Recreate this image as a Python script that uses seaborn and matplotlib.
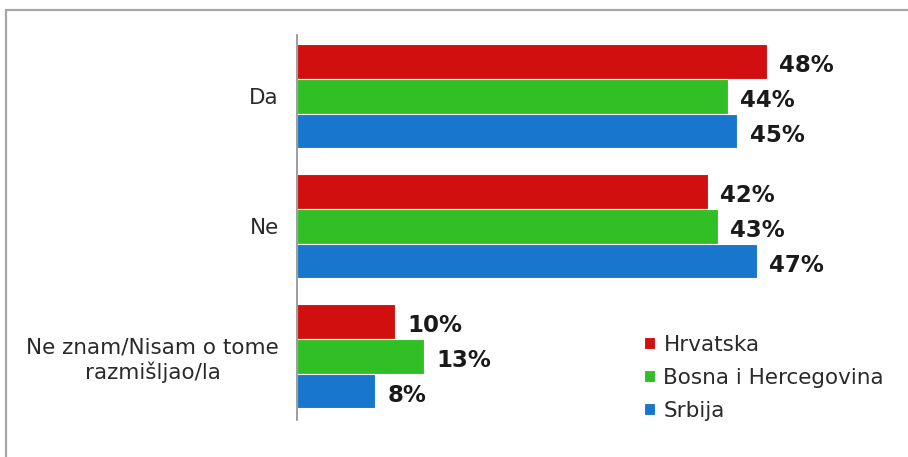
import pandas as pd
import matplotlib
matplotlib.use('Agg')
import matplotlib.pyplot as plt
from matplotlib.patches import Rectangle
import seaborn as sns

# podaci procitani s grafa
odgovori = ['Da', 'Ne', 'Ne znam/Nisam o tome\nrazmišljao/la']
zemlje = ['Hrvatska', 'Bosna i Hercegovina', 'Srbija']
hrvatska = [48, 42, 10]
bih = [44, 43, 13]
srbija = [45, 47, 8]
boje = ['#d10f0f', '#30bf24', '#1877cc']

rows = []
for zemlja, vals in zip(zemlje, [hrvatska, bih, srbija]):
    for odg, v in zip(odgovori, vals):
        rows.append({'odgovor': odg, 'zemlja': zemlja, 'posto': v})
df = pd.DataFrame(rows)

sns.set_style('white')
plt.rcParams['font.family'] = ['DejaVu Sans']

fig = plt.figure(figsize=(9.08, 4.57), dpi=100)
ax = fig.add_axes([0.327, 0.081, 0.664, 0.842])

sns.barplot(data=df, y='odgovor', x='posto', hue='zemlja', order=odgovori,
            hue_order=zemlje, palette=boje, orient='h', width=0.8,
            saturation=1, edgecolor='white', linewidth=0.8, ax=ax, legend=True)

# oznake vrijednosti (malo ispod sredine stupca, kao na originalu)
for cont in ax.containers:
    anns = ax.bar_label(cont, labels=[f'{int(w)}%' for w in cont.datavalues],
                        padding=9, fontsize=16.5, fontweight='bold', color='#1a1a1a')
    for t in anns:
        x, y = t.xyann
        t.xyann = (x, y - 3)

ax.set_xlim(0, 61.6)
ax.set_ylim(2.49, -0.47)
ax.set_xlabel('')
ax.set_ylabel('')
ax.xaxis.set_visible(False)
for s in ['top', 'right', 'bottom']:
    ax.spines[s].set_visible(False)
ax.spines['left'].set_color('#8c8c8c')
ax.spines['left'].set_linewidth(1.2)
ax.tick_params(axis='y', which='major', length=0, labelsize=15.5,
               labelcolor='#2a2a2a', pad=13)
ax.set_yticks([-0.47, 0.5, 1.5, 2.49], minor=True)
ax.tick_params(axis='y', which='minor', length=5, color='#8c8c8c', width=1.2)
for lbl in ax.get_yticklabels():
    lbl.set_multialignment('center')

leg = ax.legend(loc='lower left', bbox_to_anchor=(0.688, 0.037),
                bbox_transform=fig.transFigure, frameon=False,
                fontsize=15.5, handlelength=0.5, handleheight=0.5,
                handletextpad=0.4, labelspacing=0.6)
for t in leg.get_texts():
    t.set_color('#2a2a2a')

# okvir oko grafa
fig.patches.append(Rectangle((0.007, -0.01), 1.0, 0.988, transform=fig.transFigure,
                             fill=False, edgecolor='#a6a6a6', linewidth=1.6))

fig.savefig('out.png', dpi=100)
